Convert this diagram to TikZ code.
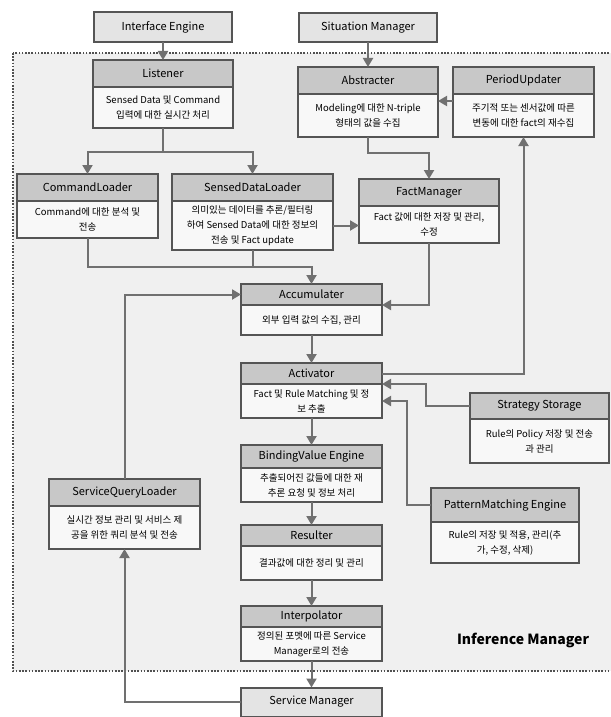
\documentclass[tikz,border=0pt]{standalone}
\usepackage{fontspec}
\setmainfont{Noto Sans CJK KR}
\newfontfamily\lblfont{Noto Sans CJK KR}
\usetikzlibrary{arrows.meta,calc}

\definecolor{boxline}{HTML}{555555}
\definecolor{hdrfill}{HTML}{C8C8C8}
\definecolor{bodyfill}{HTML}{F8F8F8}
\definecolor{extfill}{HTML}{E4E4E4}
\definecolor{wirecol}{HTML}{707070}
\definecolor{zone}{HTML}{F0F0F0}
\definecolor{dotcol}{HTML}{505050}

\tikzset{
  hdr/.style={draw=boxline, fill=hdrfill, line width=2pt, inner sep=0pt, outer sep=0pt,
              font=\fontsize{11}{13}\selectfont},
  bdy/.style={draw=boxline, fill=bodyfill, line width=2pt, inner sep=0pt, outer sep=0pt,
              align=center, font=\fontsize{9.5}{15}\selectfont},
  ext/.style={draw=boxline, fill=extfill, line width=2pt, inner sep=0pt, outer sep=0pt,
              font=\fontsize{11}{13}\selectfont},
  wire/.style={draw=wirecol, line width=2pt},
  arr/.style={wire, -{Triangle[length=9pt,width=10pt]}},
}

% #1 name, #2 left, #3 right, #4 top, #5 title/body split, #6 bottom, #7 title, #8 body
\newcommand\ImBox[8]{%
  \node[hdr, minimum width={(#3-#2)*1pt}, minimum height={(#5-#4)*1pt}]
    (#1) at ({(#2+#3)/2},{(#4+#5)/2}) {#7};
  \node[bdy, minimum width={(#3-#2)*1pt}, minimum height={(#6-#5)*1pt}, anchor=north]
    (#1b) at (#1.south) {#8};
}

\begin{document}
\begin{tikzpicture}[x=1pt,y=-1pt]
\useasboundingbox (0,0) rectangle (610,717);

% Inference Manager zone
\fill[zone] (13,53) rectangle (613,671);
\draw[dotcol, line width=1.6pt, dash pattern=on 1.6pt off 1.6pt] (13,53) rectangle (613,671);
\node[font=\lblfont\bfseries\fontsize{14}{16}\selectfont] (imlabel) at (523,640) {Inference Manager};

% external managers
\node[ext, minimum width=138pt, minimum height=30pt] (ie) at (163,27) {Interface Engine};
\node[ext, minimum width=138pt, minimum height=29pt] (situ) at (368,27.5) {Situation Manager};
\node[ext, minimum width=141pt, minimum height=29pt] (svc) at (311.5,702) {Service Manager};

% components
\ImBox{lis}{93}{233}{60}{87}{128}{Listener}{Sensed Data 및 Command\\입력에 대한 실시간 처리}
\ImBox{abs}{298}{438}{67}{94}{137}{Abstracter}{Modeling에 대한 N-triple\\형태의 값을 수집}
\ImBox{pu}{453}{594}{67}{94}{137}{PeriodUpdater}{주기적 또는 센서값에 따른\\변동에 대한 fact의 재수집}
\ImBox{cmd}{17}{158}{174}{201}{238}{CommandLoader}{Command에 대한 분석 및\\전송}
\ImBox{sdl}{172}{333}{174}{201}{250}{SensedDataLoader}{의미있는 데이터를 추론/필터링\\하여 Sensed Data에 대한 정보의\\전송 및 Fact update}
\ImBox{fm}{359}{499}{179}{206}{243}{FactManager}{Fact 값에 대한 저장 및 관리,\\수정}
\ImBox{acc}{241}{382}{284}{305}{335}{Accumulater}{외부 입력 값의 수집, 관리}
\ImBox{act}{241}{382}{363}{384}{418}{Activator}{Fact 및 Rule Matching 및 정\\보 추출}
\ImBox{ss}{470}{609}{393}{419}{463}{Strategy Storage}{Rule의 Policy 저장 및 전송\\과 관리}
\ImBox{bv}{241}{382}{445}{468}{502}{BindingValue Engine}{추출되어진 값들에 대한 재\\추론 요청 및 정보 처리}
\ImBox{pm}{431}{579}{488}{522}{563}{PatternMatching Engine}{Rule의 저장 및 적용, 관리(추\\가, 수정, 삭제)}
\ImBox{sql}{49}{200}{479}{506}{549}{ServiceQueryLoader}{실시간 정보 관리 및 서비스 제\\공을 위한 쿼리 분석 및 전송}
\ImBox{res}{241}{382}{525}{546}{580}{Resulter}{결과값에 대한 정리 및 관리}
\ImBox{ip}{241}{382}{606}{627}{661}{Interpolator}{정의된 포멧에 따른 Service\\Manager로의 전송}

% bend points
\coordinate (lsplit) at (163,152);
\coordinate (puhook) at (453,101);
\coordinate (absdrop) at (368,153);
\coordinate (accjoin) at (311.5,267);
\coordinate (ssbend) at (426,406);
\coordinate (pmbend) at (407,505);

% connectors
\draw[arr] (ie.south) -- (lis.north);
\draw[arr] (situ.south) -- (abs.north);
\draw[wire] (lisb.south) -- (lsplit);
\draw[arr] (lsplit) -| (cmd.north);
\draw[arr] (lsplit) -| (sdl.north);
\draw[arr] (puhook) -- (absb.east |- puhook);
\draw[arr] (absb.south) -- (absdrop) -| (fm.north);
\draw[arr] (sdlb.east) -- (fmb.west |- sdlb.east);
\draw[arr] (cmdb.south) |- (accjoin) -- (acc.north);
\draw[wire] (sdlb.south) -- (sdlb.south |- accjoin);
\draw[arr] (fmb.south) |- (acc.south east);
\draw[arr] (sql.north) |- (acc.west);
\draw[arr] (accb.south) -- (act.north);
\draw[arr] (act.east) -| (pub.south);
\draw[arr] (ss.west) -- (ssbend) |- (act.south east);
\draw[arr] (pm.west) -- (pmbend) |- (actb.east);
\draw[arr] (actb.south) -- (bv.north);
\draw[arr] (bvb.south) -- (res.north);
\draw[arr] (resb.south) -- (ip.north);
\draw[arr] (ipb.south) -- (svc.north);
\draw[arr] (svc.west) -| (sqlb.south);
\end{tikzpicture}
\end{document}
